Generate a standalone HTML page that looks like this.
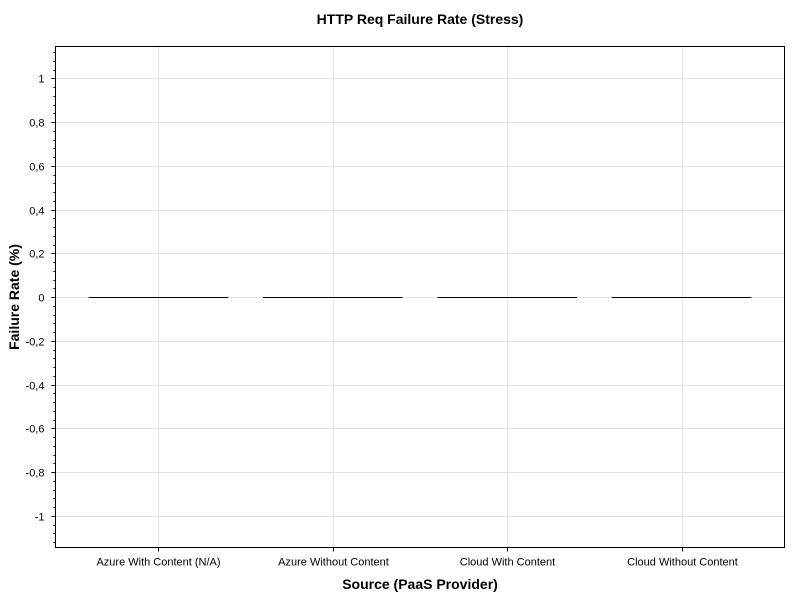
<!DOCTYPE html>
<html><head><meta charset="utf-8"><style>
html,body{margin:0;padding:0;background:#fff;}
svg text{font-family:"Liberation Sans",sans-serif;}
</style></head><body>
<svg id="chart" width="800" height="600" xmlns="http://www.w3.org/2000/svg">
<text x="420" y="24" text-anchor="middle" font-size="14" font-weight="bold" fill="#000">HTTP Req Failure Rate (Stress)</text>
<g id="grid"></g>
<g id="marks"></g>
<g id="axes"></g>
<text x="420" y="589" text-anchor="middle" font-size="14" font-weight="bold">Source (PaaS Provider)</text>
<text transform="translate(19,297) rotate(-90)" text-anchor="middle" font-size="14" font-weight="bold">Failure Rate (%)</text>
</svg>
<script>
const categories = ["Azure With Content (N/A)", "Azure Without Content", "Cloud With Content", "Cloud Without Content"];
const values = [0, 0, 0, 0];
const yTicks = [-1, -0.8, -0.6, -0.4, -0.2, 0, 0.2, 0.4, 0.6, 0.8, 1];
const yTickLabels = ["-1", "-0,8", "-0,6", "-0,4", "-0,2", "0", "0,2", "0,4", "0,6", "0,8", "1"];

const L = 55.5, R = 784.5, T = 46.5, B = 547.5;
const yMin = -1.145, yMax = 1.146;
const xMin = -0.59, xMax = 3.59;
const ys = v => B - (v - yMin) / (yMax - yMin) * (B - T);
const xs = i => L + (i - xMin) / (xMax - xMin) * (R - L);
const NS = "http://www.w3.org/2000/svg";
function mk(tag, attrs, parent) {
  const e = document.createElementNS(NS, tag);
  for (const k in attrs) e.setAttribute(k, attrs[k]);
  parent.appendChild(e); return e;
}
const grid = document.getElementById('grid'), marks = document.getElementById('marks'), axes = document.getElementById('axes');
yTicks.forEach((v, i) => {
  const y = Math.round(ys(v)) + 0.5;
  const g = mk('line', {x1: L, x2: R, y1: y, y2: y, stroke: '#e3e3e3', 'stroke-width': 1}, grid);
  
  
  const t = mk('line', {x1: L - 4, x2: L, y1: y, y2: y, stroke: '#000'}, axes);
  
  
  const lb = mk('text', {x: L - 11, y: y + 4, 'text-anchor': 'end', 'font-size': 11, fill: '#000'}, axes);
  lb.textContent = yTickLabels[i];
  
  
});
for (let v = -1.12; v <= 1.13; v += 0.04) {
  const y = Math.round(ys(v)) + 0.5;
  const m = mk('line', {x1: L - 2, x2: L, y1: y, y2: y, stroke: '#000'}, axes);
  
  
}
categories.forEach((c, i) => {
  const x = Math.round(xs(i)) + 0.5;
  const g = mk('line', {x1: x, x2: x, y1: T, y2: B, stroke: '#e3e3e3'}, grid);
  
  
  const t = mk('line', {x1: x, x2: x, y1: B, y2: B + 4, stroke: '#000'}, axes);
  
  
  const lb = mk('text', {x: x, y: B + 18, 'text-anchor': 'middle', 'font-size': 11, fill: '#000'}, axes);
  lb.textContent = c;
  
  
  const half = 0.4 * (xs(1) - xs(0));
  const y0 = ys(0), yv = ys(values[i]);
  const bar = mk('rect', {x: xs(i) - half, y: Math.min(y0, yv), width: 2 * half, height: Math.abs(y0 - yv), fill: '#4472c4', stroke: '#000', 'stroke-width': 1}, marks);
  
  
  const yl = Math.round(yv) + 0.5;
  const top = mk('line', {x1: xs(i) - half, x2: xs(i) + half, y1: yl, y2: yl, stroke: '#000', 'stroke-width': 1}, marks);
  
  
});
const frame = mk('rect', {x: L, y: T, width: R - L, height: B - T, fill: 'none', stroke: '#000', 'stroke-width': 1}, axes);


</script>
</body></html>
